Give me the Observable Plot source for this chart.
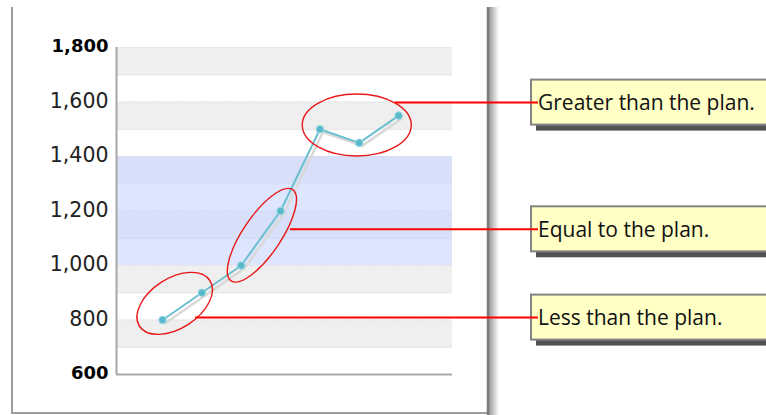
<!DOCTYPE html>
<html>
<head>
<meta charset="utf-8">
<script src="https://cdn.jsdelivr.net/npm/d3@7"></script>
<script src="https://cdn.jsdelivr.net/npm/@observablehq/plot@0.6"></script>
<style>
  html, body { margin: 0; padding: 0; background: #fff; overflow: hidden; }
  #chart svg { display: block; }
</style>
</head>
<body>
<div id="chart"></div>
<script>
// ---- data ----
const categories = [1, 2, 3, 4, 5, 6, 7];
const values = [800, 900, 1000, 1200, 1500, 1450, 1550];
const yTicks = [600, 800, 1000, 1200, 1400, 1600, 1800];
const boldTicks = [600, 1800];
const stripeLow = [700, 900, 1100, 1300, 1500, 1700];
const stripeHigh = [800, 1000, 1200, 1400, 1600, 1800];
const planLow = [1000];
const planHigh = [1400];
const noteTexts = ["Greater than the plan.", "Equal to the plan.", "Less than the plan."];
const noteFirst = [5, 3, 1];   // first circled category
const noteLast = [7, 4, 2];    // last circled category
const noteLevel = [1596, 1131, 807]; // value where the leader line runs

const points = categories.map((c, i) => ({c, v: values[i]}));
const stripes = stripeLow.map((lo, i) => ({lo, hi: stripeHigh[i]}));
const plan = planLow.map((lo, i) => ({lo, hi: planHigh[i]}));
const notes = noteTexts.map((t, i) => ({t, a: noteFirst[i], b: noteLast[i], level: noteLevel[i]}));

// ---- styling of the annotation shapes (pixels) ----
const ellipseStyle = [
  {dx: -2, dy: 3, rx: 54.5, ry: 31, rot: 0},
  {dx: 1.5, dy: -2.5, rx: 55, ry: 19, rot: -56},
  {dx: -7, dy: -2.5, rx: 42, ry: 25, rot: -33}
];
const leaderStart = [395, 290, 195];

function annotations(index, scales, values2, dimensions) {
  const {x, y} = scales;
  const g = d3.create("svg:g");
  // outer frame
  const defs = g.append("defs");
  const grad = defs.append("linearGradient").attr("id", "frameShadow");
  grad.append("stop").attr("offset", "0%").attr("stop-color", "#9a9a9a");
  grad.append("stop").attr("offset", "100%").attr("stop-color", "#ffffff");
  g.append("rect").attr("x", 489).attr("y", 7).attr("width", 10).attr("height", 408).attr("fill", "url(#frameShadow)");
  g.append("path").attr("d", "M12,7V413H488").attr("fill", "none").attr("stroke", "#9c9c9c").attr("stroke-width", 2);
  g.append("path").attr("d", "M488,7V415").attr("fill", "none").attr("stroke", "#7a7a7a").attr("stroke-width", 2.5);

  notes.forEach((n, i) => {
    const s = ellipseStyle[i];
    const pa = points.find(p => p.c === n.a), pb = points.find(p => p.c === n.b);
    const cx = (x(pa.c) + x(pb.c)) / 2 + s.dx;
    const cy = (y(pa.v) + y(pb.v)) / 2 + s.dy;
    g.append("ellipse")
      .attr("cx", 0).attr("cy", 0).attr("rx", s.rx).attr("ry", s.ry)
      .attr("transform", `translate(${cx},${cy}) rotate(${s.rot})`)
      .attr("fill", "none").attr("stroke", "#e81818").attr("stroke-width", 1.4);
    const ly = y(n.level);
    const bx = 531, bh = 45, by = ly - 23;
    // box shadow
    g.append("rect").attr("x", bx + 5).attr("y", by + 6).attr("width", 300).attr("height", bh)
      .attr("fill", "#525252");
    g.append("rect").attr("x", bx).attr("y", by).attr("width", 300).attr("height", bh)
      .attr("fill", "#ffffc6").attr("stroke", "#838383").attr("stroke-width", 2);
    g.append("line").attr("x1", leaderStart[i]).attr("x2", 538).attr("y1", ly).attr("y2", ly)
      .attr("stroke", "#ff0000").attr("stroke-width", 2);
    g.append("text").attr("x", 538).attr("y", ly).attr("dy", "0.35em")
      .attr("text-anchor", "start")
      .attr("font-family", "'Open Sans', sans-serif").attr("font-size", 21)
      .attr("fill", "#111").text(n.t);
  });
  return g.node();
}

const chart = Plot.plot({
  width: 766,
  height: 415,
  marginLeft: 116,
  marginRight: 314,
  marginTop: 47,
  marginBottom: 41,
  x: {domain: [-0.17, 8.37], axis: null},
  y: {domain: [600, 1800], axis: null},
  style: {background: "#fff"},
  marks: [
    Plot.rectY(stripes, {y1: "lo", y2: "hi", fill: "#efefef"}),
    Plot.ruleY(stripes, {y: "lo", stroke: "#e0e0e0", strokeWidth: 1.2}),
    Plot.ruleY(stripes, {y: "hi", stroke: "#e4e4e4", strokeWidth: 1, strokeDasharray: "2,1"}),
    Plot.rectY(plan, {y1: "lo", y2: "hi", fill: "#c6d3ff", fillOpacity: 0.6}),
    Plot.ruleY([600], {stroke: "#a8a8a8", strokeWidth: 2}),
    Plot.ruleX([-0.17], {y1: 600, y2: 1800, stroke: "#a8a8a8", strokeWidth: 2}),
    Plot.text(yTicks.filter(t => !boldTicks.includes(t)), {
      y: d => d, text: d => d3.format(",")(d), frameAnchor: "left", textAnchor: "end", dx: -8, dy: -1,
      fontFamily: "'DejaVu Sans', Verdana, sans-serif", fontSize: 20.5, fill: "#222"
    }),
    Plot.text(boldTicks, {
      y: d => d, text: d => d3.format(",")(d), frameAnchor: "left", textAnchor: "end", dx: -8, dy: -1,
      fontFamily: "'DejaVu Sans', Verdana, sans-serif", fontSize: 18, fontWeight: "bold", fill: "#000"
    }),
    Plot.line(points, {x: "c", y: "v", stroke: "#d9d9d9", strokeWidth: 2.5, dx: 3, dy: 3}),
    Plot.line(points, {x: "c", y: "v", stroke: "#6bbfcf", strokeWidth: 2}),
    Plot.dot(points, {x: "c", y: "v", r: 3.8, fill: "#5ab8cb", stroke: "#9fdbe6", strokeWidth: 1}),
    annotations
  ]
});
document.getElementById("chart").appendChild(chart);
</script>
</body>
</html>
